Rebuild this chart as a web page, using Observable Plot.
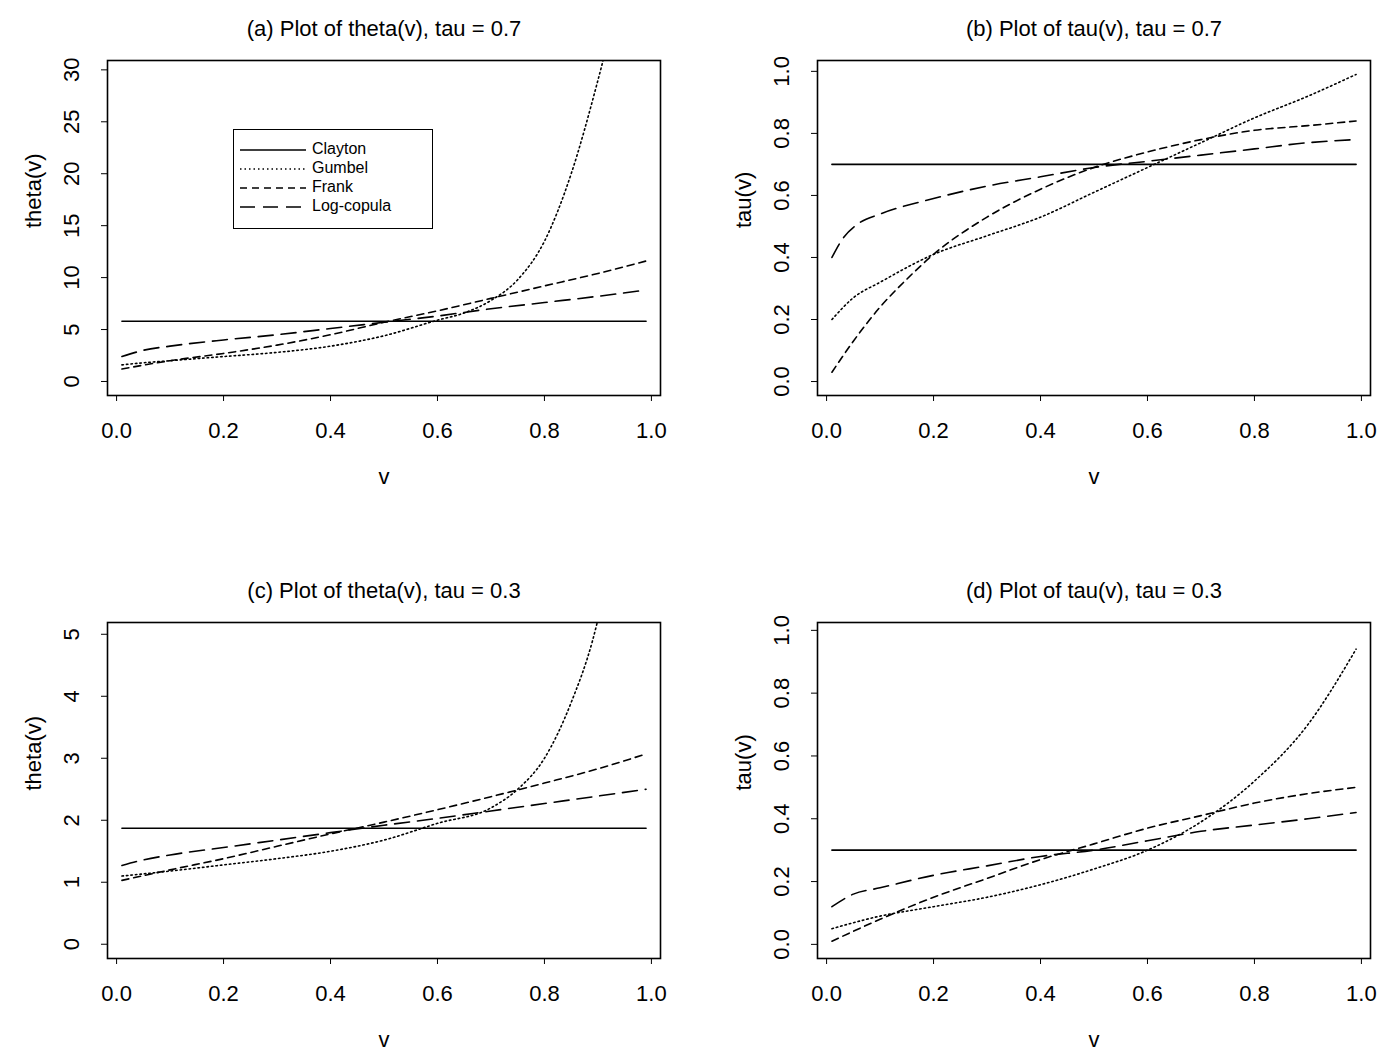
<!DOCTYPE html>
<html><head><meta charset="utf-8">
<script src="https://cdn.jsdelivr.net/npm/d3@7"></script>
<script src="https://cdn.jsdelivr.net/npm/@observablehq/plot@0.6"></script>
<style>
body{margin:0;background:#fff;font-family:"Liberation Sans",Arial,sans-serif;}
#wrap{position:relative;width:1392px;height:1057px;}
.p{position:absolute;}
#legend{position:absolute;left:233px;top:129px;width:198px;height:98px;border:1.5px solid #000;background:#fff;font-size:16px;}
#legend div{position:absolute;left:0;height:19px;line-height:19px;}
#legend svg{position:absolute;left:6px;top:9px;}
#legend span{position:absolute;left:78px;top:0;white-space:nowrap;}
</style></head><body>
<div id="wrap"></div>
<script>
const series = ["Clayton","Gumbel","Frank","Log-copula"];
const dashes = {Clayton:null, Gumbel:"1.5,3", Frank:"7,5", "Log-copula":"15,8"};

// Panel (a): theta(v), tau = 0.7
const aV = [0.01,0.05,0.1,0.2,0.3,0.4,0.5,0.6,0.65,0.7,0.75,0.8,0.85,0.9,0.92];
const aGumbel = [1.6,1.8,2.0,2.4,2.8,3.4,4.4,5.9,6.6,7.8,9.8,13.5,20,29,33];
const fV = [0.01,0.1,0.2,0.3,0.4,0.5,0.6,0.7,0.8,0.9,0.99];
const aFrank = [1.2,2.0,2.7,3.5,4.5,5.7,6.8,8.0,9.2,10.4,11.6];
const lV = [0.01,0.05,0.1,0.2,0.3,0.4,0.5,0.6,0.7,0.8,0.9,0.99];
const aLog = [2.4,3.0,3.4,4.0,4.5,5.1,5.7,6.3,7.0,7.6,8.2,8.8];
const aClayton = 5.8;

// Panel (b): tau(v), tau = 0.7
const bGV = [0.01,0.05,0.1,0.2,0.3,0.4,0.5,0.6,0.7,0.8,0.9,0.99];
const bGumbel = [0.2,0.27,0.32,0.41,0.47,0.53,0.61,0.69,0.77,0.85,0.92,0.99];
const bFV = [0.01,0.05,0.1,0.15,0.2,0.3,0.4,0.5,0.6,0.7,0.8,0.9,0.99];
const bFrank = [0.03,0.13,0.24,0.33,0.41,0.53,0.62,0.69,0.74,0.78,0.81,0.825,0.84];
const bLV = [0.01,0.03,0.06,0.1,0.2,0.3,0.4,0.5,0.6,0.7,0.8,0.9,0.99];
const bLog = [0.40,0.46,0.51,0.54,0.59,0.63,0.66,0.69,0.71,0.73,0.75,0.77,0.78];
const bClayton = 0.70;

// Panel (c): theta(v), tau = 0.3
const cGV = [0.01,0.1,0.2,0.3,0.4,0.5,0.6,0.7,0.75,0.8,0.85,0.89,0.91];
const cGumbel = [1.1,1.18,1.28,1.38,1.5,1.68,1.95,2.2,2.5,3.0,3.9,4.9,5.6];
const cFrank = [1.03,1.2,1.38,1.58,1.78,1.97,2.17,2.38,2.6,2.83,3.07];
const cLog = [1.27,1.36,1.44,1.56,1.68,1.8,1.92,2.03,2.15,2.27,2.39,2.5];
const cClayton = 1.87;

// Panel (d): tau(v), tau = 0.3
const dGumbel = [0.05,0.09,0.12,0.15,0.19,0.24,0.3,0.39,0.52,0.7,0.94];
const dFrank = [0.01,0.08,0.15,0.21,0.27,0.32,0.37,0.41,0.45,0.48,0.5];
const dLog = [0.12,0.16,0.18,0.22,0.25,0.28,0.3,0.33,0.36,0.38,0.4,0.42];
const dClayton = 0.30;

const xTicks = [0,0.2,0.4,0.6,0.8,1.0];

function rows(name, vs, ys){ return vs.map((v,i)=>({v, y:ys[i], s:name})); }

function panel({title, ylabel, data, ydomain, yticks, left, top, ml, mr, height, mb}){
  const width = 696;
  const fmt = d => d3.format(".1f")(d);
  const yfmt = yticks[yticks.length-1] > 1.5 ? d3.format("d") : d3.format(".1f");
  const marks = [];
  for (const s of series){
    marks.push(Plot.line(data.filter(d=>d.s===s), {x:"v", y:"y", stroke:"#000", strokeWidth:1.6,
      strokeDasharray: dashes[s], curve:"monotone-x", clip:true}));
  }
  marks.push(Plot.frame({stroke:"#000", strokeWidth:1.6}));
  marks.push(Plot.axisX({ticks:xTicks, tickSize:6, tickFormat:()=>"", label:null}));
  marks.push(Plot.text(xTicks, {x:d=>d, frameAnchor:"bottom", dy:42, text:fmt, fontSize:22}));
  marks.push(Plot.axisY({ticks:yticks, tickSize:6, tickFormat:()=>"", label:null}));
  marks.push(Plot.text(yticks, {y:d=>d, frameAnchor:"left", dx:-36, rotate:-90, text:yfmt, fontSize:22, textAnchor:"middle"}));
  marks.push(Plot.text([title], {frameAnchor:"top", dy:-40, fontSize:22}));
  marks.push(Plot.text(["v"], {frameAnchor:"bottom", dy:88, fontSize:22}));
  marks.push(Plot.text([ylabel], {frameAnchor:"left", dx:-74, rotate:-90, fontSize:22}));
  const svg = Plot.plot({
    width, height, marginLeft:ml, marginRight:mr, marginTop:60, marginBottom:mb,
    x:{domain:[-0.017,1.017]}, y:{domain:ydomain},
    style:{fontFamily:"'Liberation Sans', Arial, sans-serif", color:"#000", background:"transparent", overflow:"visible"},
    marks
  });
  svg.classList.add("p");
  svg.style.left = left+"px"; svg.style.top = top+"px";
  document.getElementById("wrap").appendChild(svg);
}

const dataA = [...rows("Clayton",[0.01,0.99],[aClayton,aClayton]), ...rows("Gumbel",aV,aGumbel), ...rows("Frank",fV,aFrank), ...rows("Log-copula",lV,aLog)];
const dataB = [...rows("Clayton",[0.01,0.99],[bClayton,bClayton]), ...rows("Gumbel",bGV,bGumbel), ...rows("Frank",bFV,bFrank), ...rows("Log-copula",bLV,bLog)];
const dataC = [...rows("Clayton",[0.01,0.99],[cClayton,cClayton]), ...rows("Gumbel",cGV,cGumbel), ...rows("Frank",fV,cFrank), ...rows("Log-copula",lV,cLog)];
const dataD = [...rows("Clayton",[0.01,0.99],[dClayton,dClayton]), ...rows("Gumbel",fV,dGumbel), ...rows("Frank",fV,dFrank), ...rows("Log-copula",lV,dLog)];

panel({title:"(a) Plot of theta(v), tau = 0.7", ylabel:"theta(v)", data:dataA, ydomain:[-1.35,30.9], yticks:[0,5,10,15,20,25,30], left:0, top:0, ml:107, mr:36, height:528, mb:133});
panel({title:"(b) Plot of tau(v), tau = 0.7", ylabel:"tau(v)", data:dataB, ydomain:[-0.045,1.035], yticks:[0,0.2,0.4,0.6,0.8,1.0], left:696, top:0, ml:121, mr:22, height:528, mb:133});
panel({title:"(c) Plot of theta(v), tau = 0.3", ylabel:"theta(v)", data:dataC, ydomain:[-0.23,5.19], yticks:[0,1,2,3,4,5], left:0, top:562, ml:107, mr:36, height:495, mb:99});
panel({title:"(d) Plot of tau(v), tau = 0.3", ylabel:"tau(v)", data:dataD, ydomain:[-0.045,1.025], yticks:[0,0.2,0.4,0.6,0.8,1.0], left:696, top:562, ml:121, mr:22, height:495, mb:99});

// legend for panel (a)
const lg = document.createElement("div"); lg.id="legend";
series.forEach((s,i)=>{
  const row = document.createElement("div"); row.style.top = (9+i*19)+"px"; row.style.width="198px";
  row.innerHTML = `<svg width="66" height="4" style="top:9px"><line x1="0" y1="2" x2="66" y2="2" stroke="#000" stroke-width="1.6" ${dashes[s]?`stroke-dasharray="${dashes[s]}"`:""}/></svg><span>${s}</span>`;
  lg.appendChild(row);
});
document.getElementById("wrap").appendChild(lg);
</script></body></html>
